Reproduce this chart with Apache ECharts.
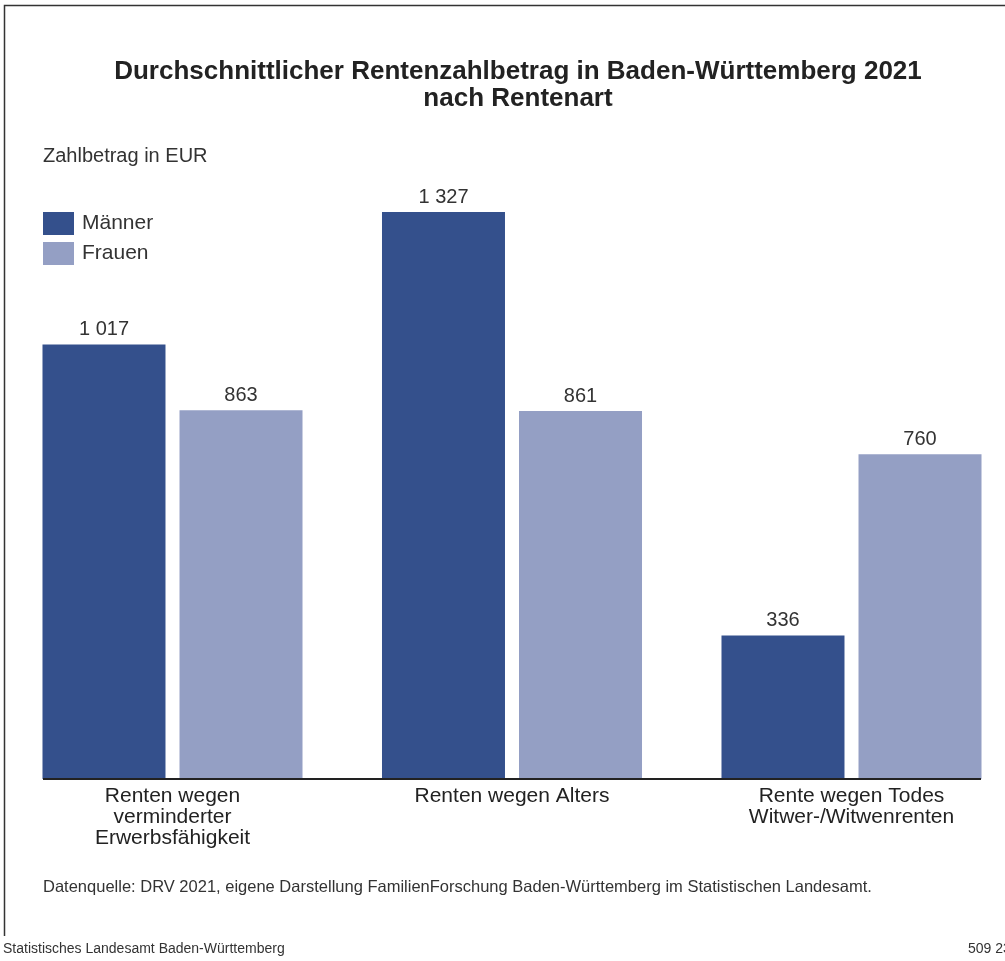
<!DOCTYPE html>
<html>
<head>
<meta charset="utf-8">
<script src="https://cdn.jsdelivr.net/npm/echarts@6/dist/echarts.min.js"></script>
<style>
html,body{margin:0;padding:0;background:#fff;}
#chart{width:1005px;height:961px;}
</style>
</head>
<body>
<div id="chart"></div>
<script>
const categories = ['Renten wegen\nverminderter\nErwerbsfähigkeit', 'Renten wegen Alters', 'Rente wegen Todes\nWitwer-/Witwenrenten'];
const maenner = [1017, 1327, 336];
const frauen = [863, 861, 760];
const seriesNames = ['Männer', 'Frauen'];
const yMax = 1400;

const FONT = 'Liberation Sans, Arial, sans-serif';
const fmt = v => String(v).replace(/\B(?=(\d{3})+(?!\d))/g, ' ');

const chart = echarts.init(document.getElementById('chart'), null, {renderer: 'canvas'});

const labelStyle = {
  show: true, position: 'top', distance: 5,
  fontFamily: FONT, fontSize: 20, color: '#333',
  formatter: p => fmt(p.value)
};

const option = {
  backgroundColor: '#fff',
  animation: false,
  title: {
    text: 'Durchschnittlicher Rentenzahlbetrag in Baden-Württemberg 2021\nnach Rentenart',
    left: 513, top: 53, textAlign: 'center',
    textStyle: {fontFamily: FONT, fontSize: 26, fontWeight: 'bold', color: '#222', lineHeight: 27}
  },
  legend: {
    orient: 'vertical', left: 43, top: 212, padding: 0,
    itemWidth: 31, itemHeight: 23, itemGap: 7, icon: 'rect',
    data: seriesNames,
    textStyle: {fontFamily: FONT, fontSize: 21, color: '#333', padding: [0, 0, 0, 3]}
  },
  grid: {left: 172.5, right: 153.5, top: 180.8, bottom: 182, containLabel: false},
  xAxis: {
    type: 'category', data: categories, boundaryGap: false,
    axisLine: {show: false}, axisTick: {show: false}, splitLine: {show: false},
    axisLabel: {fontFamily: FONT, fontSize: 21, color: '#222', lineHeight: 21, margin: 7, interval: 0}
  },
  yAxis: {
    type: 'value', min: 0, max: yMax,
    show: false, splitLine: {show: false}
  },
  series: [
    {name: seriesNames[0], type: 'bar', data: maenner, barWidth: 123, barGap: '11.4%', clip: false,
     itemStyle: {color: '#34508c'}, label: labelStyle},
    {name: seriesNames[1], type: 'bar', data: frauen, barWidth: 123, barGap: '11.4%', clip: false,
     itemStyle: {color: '#949fc4'}, label: labelStyle}
  ]
};
chart.setOption(option);

// baseline spanning the bars
const y0 = chart.convertToPixel({yAxisIndex: 0}, 0);
const xFirst = chart.convertToPixel({xAxisIndex: 0}, 0) - 129.5;
const xLast = chart.convertToPixel({xAxisIndex: 0}, categories.length - 1) + 129.5;

chart.setOption({
  graphic: [
    {type: 'polyline', shape: {points: [[4.5, 936], [4.5, 5.5], [1005, 5.5]]},
     style: {stroke: '#333', lineWidth: 1.5, fill: null}, silent: true},
    {type: 'line', shape: {x1: xFirst, y1: y0, x2: xLast, y2: y0},
     style: {stroke: '#222', lineWidth: 2}, z: 10, silent: true},
    {type: 'text', left: 43, top: 146,
     style: {text: 'Zahlbetrag in EUR', font: '20px ' + FONT, fill: '#333'}},
    {type: 'text', left: 43, top: 879,
     style: {text: 'Datenquelle: DRV 2021, eigene Darstellung FamilienForschung Baden-Württemberg im Statistischen Landesamt.', font: '16.5px ' + FONT, fill: '#333'}},
    {type: 'text', left: 3, top: 942,
     style: {text: 'Statistisches Landesamt Baden-Württemberg', font: '14px ' + FONT, fill: '#333'}},
    {type: 'text', left: 968, top: 942,
     style: {text: '509 23', font: '14px ' + FONT, fill: '#333'}}
  ]
});
</script>
</body>
</html>
